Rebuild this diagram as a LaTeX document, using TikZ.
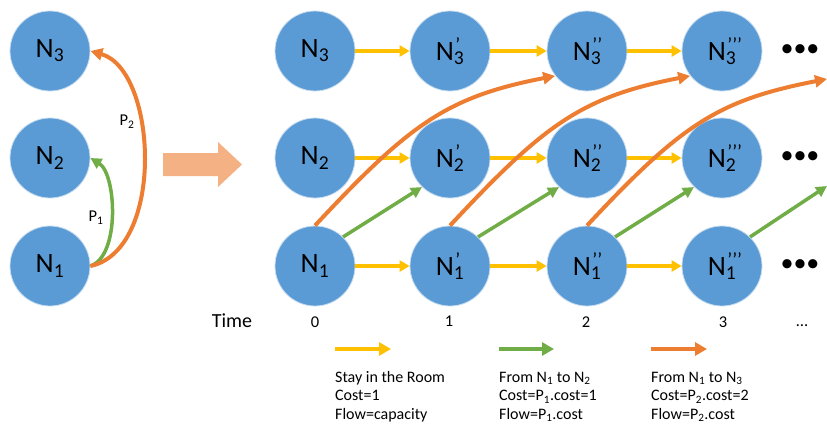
\documentclass[tikz,border=0pt]{standalone}
\usepackage{fontspec}
\setmainfont{Carlito}
\usetikzlibrary{arrows.meta}
\definecolor{nodeblue}{HTML}{5B9BD5}
\definecolor{ayellow}{HTML}{FFC000}
\definecolor{agreen}{HTML}{70AD47}
\definecolor{aorange}{HTML}{ED7D31}
\definecolor{bigarrow}{HTML}{F4B183}
\newcommand{\NN}[2]{N\rlap{\textsuperscript{\kern0.08em #2}}\textsubscript{#1}}
\newcommand{\mysub}[1]{\textsubscript{#1}}
\begin{document}
\begin{tikzpicture}[x=1pt,y=-1pt,
  room/.style={circle,fill=nodeblue,draw=nodeblue!35!white,line width=0.8pt,
    minimum size=80pt,inner sep=0pt,font=\fontsize{28}{30}\selectfont},
  stay/.style={draw=ayellow,line width=3.5pt,-{Triangle[length=10pt,width=11pt]}},
  move/.style={draw=agreen,line width=3.5pt,-{Triangle[length=11pt,width=11pt]}},
  jump/.style={draw=aorange,line width=4pt,-{Triangle[length=12pt,width=12pt]}},
  legarrow/.style={line width=4.5pt,-{Triangle[length=12pt,width=13pt]}},
  dotsnode/.style={font=\fontsize{26}{26}\selectfont,inner sep=0pt},
  timelab/.style={anchor=base,inner sep=0pt,font=\fontsize{16.5}{18}\selectfont},
  legtext/.style={anchor=base west,inner sep=0pt,font=\fontsize{16}{18}\selectfont},
  plab/.style={inner sep=0pt,font=\fontsize{16.5}{18}\selectfont}
]
\useasboundingbox (0,0) rectangle (827,428);

% left graph
\node[room] (L3) at (50,51) {N\mysub{3}};
\node[room] (L2) at (50,158) {N\mysub{2}};
\node[room] (L1) at (50,266) {N\mysub{1}};
\draw[move] (L1.east) .. controls +(30,-10) and +(26,16) .. (L2.east);
\draw[jump] (L1.east) .. controls +(75,-16) and +(67,19) .. (L3.east);
\node[plab] (P1) at (96,218) {P\mysub{1}};
\node[plab] (P2) at (127,122) {P\mysub{2}};

% big arrow
\fill[bigarrow] (163,153) -- (218,153) -- (218,142) -- (242,164.5) -- (218,187) -- (218,176) -- (163,176) -- cycle;

% grid
\node[room] (n30) at (315,51) {N\mysub{3}};
\node[room] (n20) at (315,158) {N\mysub{2}};
\node[room] (n10) at (315,266) {N\mysub{1}};
\node[room] (n31) at (450,51) {\NN{3}{’}};
\node[room] (n21) at (450,158) {\NN{2}{’}};
\node[room] (n11) at (450,266) {\NN{1}{’}};
\node[room] (n32) at (587,51) {\NN{3}{’{}’}};
\node[room] (n22) at (587,158) {\NN{2}{’{}’}};
\node[room] (n12) at (587,266) {\NN{1}{’{}’}};
\node[room] (n33) at (722,51) {\NN{3}{’{}’{}’}};
\node[room] (n23) at (722,158) {\NN{2}{’{}’{}’}};
\node[room] (n13) at (722,266) {\NN{1}{’{}’{}’}};
\node[dotsnode] (d3) at (800,51) {•••};
\node[dotsnode] (d2) at (800,158) {•••};
\node[dotsnode] (d1) at (800,266) {•••};

\foreach \r in {1,2,3}{
  \draw[stay] (n\r0.east) -- (n\r1.west);
  \draw[stay] (n\r1.east) -- (n\r2.west);
  \draw[stay] (n\r2.east) -- (n\r3.west);
}
\coordinate (gend) at (827,186);
\coordinate (oend) at (827,79);
\draw[move] (n10.46) -- (n21.226);
\draw[move] (n11.46) -- (n22.226);
\draw[move] (n12.46) -- (n23.226);
\draw[move] (n13.46) -- (gend);

\draw[jump] (n10.north) .. controls +(95,-102) and +(-108,21) .. (n32.218);
\draw[jump] (n11.north) .. controls +(95,-102) and +(-108,21) .. (n33.218);
\draw[jump] (n12.north) .. controls +(95,-102) and +(-108,21) .. (oend);

% time axis
\node[anchor=base,inner sep=0pt,font=\fontsize{20}{22}\selectfont] (tl) at (232,327) {Time};
\node[timelab] (t0) at (315,327) {0};
\node[timelab] (t1) at (449,326) {1};
\node[timelab] (t2) at (586,327) {2};
\node[timelab] (t3) at (723,327) {3};
\node[timelab] (tdots) at (802,326) {…};

% legend
\coordinate (ya) at (335,349); \coordinate (yb) at (391,349);
\coordinate (ga) at (499,349); \coordinate (gb) at (554,349);
\coordinate (oa) at (651,349); \coordinate (ob) at (707,349);
\draw[legarrow,draw=ayellow] (ya) -- (yb);
\draw[legarrow,draw=agreen] (ga) -- (gb);
\draw[legarrow,draw=aorange] (oa) -- (ob);

\node[legtext] (y1) at (335,382) {Stay in the Room};
\node[legtext] (y2) at (335,400.5) {Cost=1};
\node[legtext] (y3) at (335,419) {Flow=capacity};
\node[legtext] (g1) at (499,382) {From N\mysub{1} to N\mysub{2}};
\node[legtext] (g2) at (499,400.5) {Cost=P\mysub{1}.cost=1};
\node[legtext] (g3) at (499,419) {Flow=P\mysub{1}.cost};
\node[legtext] (o1) at (651,382) {From N\mysub{1} to N\mysub{3}};
\node[legtext] (o2) at (651,400.5) {Cost=P\mysub{2}.cost=2};
\node[legtext] (o3) at (651,419) {Flow=P\mysub{2}.cost};
\end{tikzpicture}
\end{document}
